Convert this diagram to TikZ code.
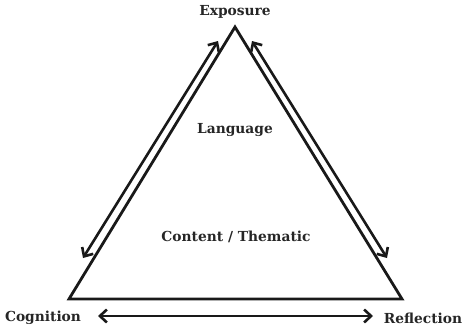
\documentclass[tikz,border=0pt]{standalone}
\usepackage{fontspec}
\setmainfont{DejaVu Serif}
\usetikzlibrary{arrows.meta}
\begin{document}
\begin{tikzpicture}[x=1pt,y=-1pt,
  lbl/.style={font=\bfseries\fontsize{13.8}{16}\selectfont, text=black!85, inner sep=0pt},
  tri/.style={line width=2.8pt, line join=miter, black!90},
  dbl/.style={line width=2.6pt, black!90, {Straight Barb[length=7pt,width=13pt,line width=2.6pt]}-{Straight Barb[length=7pt,width=13pt,line width=2.6pt]}}]
\useasboundingbox (0,0) rectangle (464,330);
\coordinate (A) at (235,27);
\coordinate (B) at (69,299);
\coordinate (C) at (402,299);
\draw[tri] (A) -- (B) -- (C) -- cycle;
\node[lbl] (exp) at (235,12) {Exposure};
\node[lbl] (cog) at (43,318) {Cognition};
\node[lbl] (ref) at (423,318) {Reflection};
\node[lbl] (lang) at (235,130) {Language};
\node[lbl] (cont) at (236,237) {Content / Thematic};
\coordinate (l1) at (83,258);
\coordinate (l2) at (218,41);
\coordinate (r1) at (252,41);
\coordinate (r2) at (387,258);
\coordinate (b1) at (98,316);
\coordinate (b2) at (373,316);
\draw[dbl] (l1) -- (l2);
\draw[dbl] (r1) -- (r2);
\draw[dbl] (b1) -- (b2);
\end{tikzpicture}
\end{document}
